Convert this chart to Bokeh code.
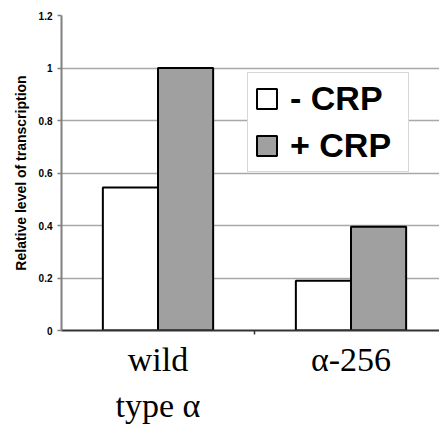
from bokeh.plotting import figure
from bokeh.models import Range1d, FixedTicker, Legend, LegendItem, ColumnDataSource
from bokeh.embed import file_html
from bokeh.resources import INLINE

categories = ["wild\ntype α", "α-256"]
minus_crp = [0.545, 0.19]
plus_crp = [1.0, 0.395]
y_ticks = [0, 0.2, 0.4, 0.6, 0.8, 1.0, 1.2]
y_tick_labels = ["0", "0.2", "0.4", "0.6", "0.8", "1", "1.2"]
series_names = ["- CRP", "+ CRP"]

bar_w = 1 / 3.5
centers = [i + 0.5 for i in range(len(categories))]
FW = 378

p = figure(frame_width=FW, frame_height=315, output_backend="svg", toolbar_location=None,
           x_range=Range1d(0, FW / 193), y_range=Range1d(0, 1.2),
           min_border_left=61, min_border_right=0, min_border_top=15, min_border_bottom=0)
p.outline_line_color = None
p.background_fill_color = "white"
p.border_fill_color = "white"

src_m = ColumnDataSource(dict(x=[c - bar_w / 2 for c in centers], top=minus_crp))
src_p = ColumnDataSource(dict(x=[c + bar_w / 2 for c in centers], top=plus_crp))

p.xgrid.visible = False
p.ygrid.ticker = FixedTicker(ticks=y_ticks)
p.ygrid.grid_line_color = "#a8a8a8"
p.ygrid.grid_line_width = 1.5

r1 = p.vbar(x="x", top="top", width=bar_w, source=src_m, fill_color="white",
            line_color="black", line_width=2)
r2 = p.vbar(x="x", top="top", width=bar_w, source=src_p, fill_color="#a0a0a0",
            line_color="black", line_width=2)

# y axis
p.yaxis.ticker = FixedTicker(ticks=y_ticks)
p.yaxis.major_label_overrides = {t: l for t, l in zip(y_ticks, y_tick_labels)}
p.yaxis.minor_tick_line_color = None
p.yaxis.axis_line_color = "#808080"
p.yaxis.axis_line_width = 2
p.yaxis.major_tick_line_color = "#808080"
p.yaxis.major_tick_line_width = 1.5
p.yaxis.major_tick_in = 0
p.yaxis.major_tick_out = 4
p.yaxis.major_label_text_font = "Liberation Sans"
p.yaxis.major_label_text_font_style = "bold"
p.yaxis.major_label_text_font_size = "10px"
p.yaxis.major_label_text_color = "black"
p.yaxis.major_label_standoff = 5
p.yaxis.axis_label = "Relative level of transcription"
p.yaxis.axis_label_text_font = "Liberation Sans"
p.yaxis.axis_label_text_font_style = "bold"
p.yaxis.axis_label_text_font_size = "14px"
p.yaxis.axis_label_text_color = "black"
p.yaxis.axis_label_standoff = 7

# x axis
p.xaxis.ticker = FixedTicker(ticks=centers, minor_ticks=[1.0])
p.xaxis.major_label_overrides = {c: l for c, l in zip(centers, categories)}
p.xaxis.major_tick_line_color = None
p.xaxis.major_tick_out = 0
p.xaxis.major_tick_in = 0
p.xaxis.minor_tick_line_color = "#333333"
p.xaxis.minor_tick_line_width = 1.5
p.xaxis.minor_tick_in = 0
p.xaxis.minor_tick_out = 4
p.xaxis.axis_line_color = "#333333"
p.xaxis.axis_line_width = 2
p.xaxis.major_label_text_font = "Liberation Serif"
p.xaxis.major_label_text_font_size = "34px"
p.xaxis.major_label_text_color = "black"
p.xaxis.major_label_standoff = 6
p.xaxis.major_label_text_line_height = 1.26

legend = Legend(items=[LegendItem(label=series_names[0], renderers=[r1]),
                       LegendItem(label=series_names[1], renderers=[r2])],
                location=(186, 158), orientation="vertical")
legend.margin = 0
legend.padding = 6
legend.spacing = 8
legend.glyph_width = 25
legend.glyph_height = 25
legend.label_height = 25
legend.label_width = 112
legend.label_standoff = 11
legend.label_text_font = "Liberation Sans"
legend.label_text_font_style = "bold"
legend.label_text_font_size = "34px"
legend.label_text_color = "black"
legend.border_line_color = "#b0b0b0"
legend.border_line_width = 1.5
legend.background_fill_alpha = 1
p.add_layout(legend, "center")

open("out.html", "w").write(file_html(p, INLINE))
